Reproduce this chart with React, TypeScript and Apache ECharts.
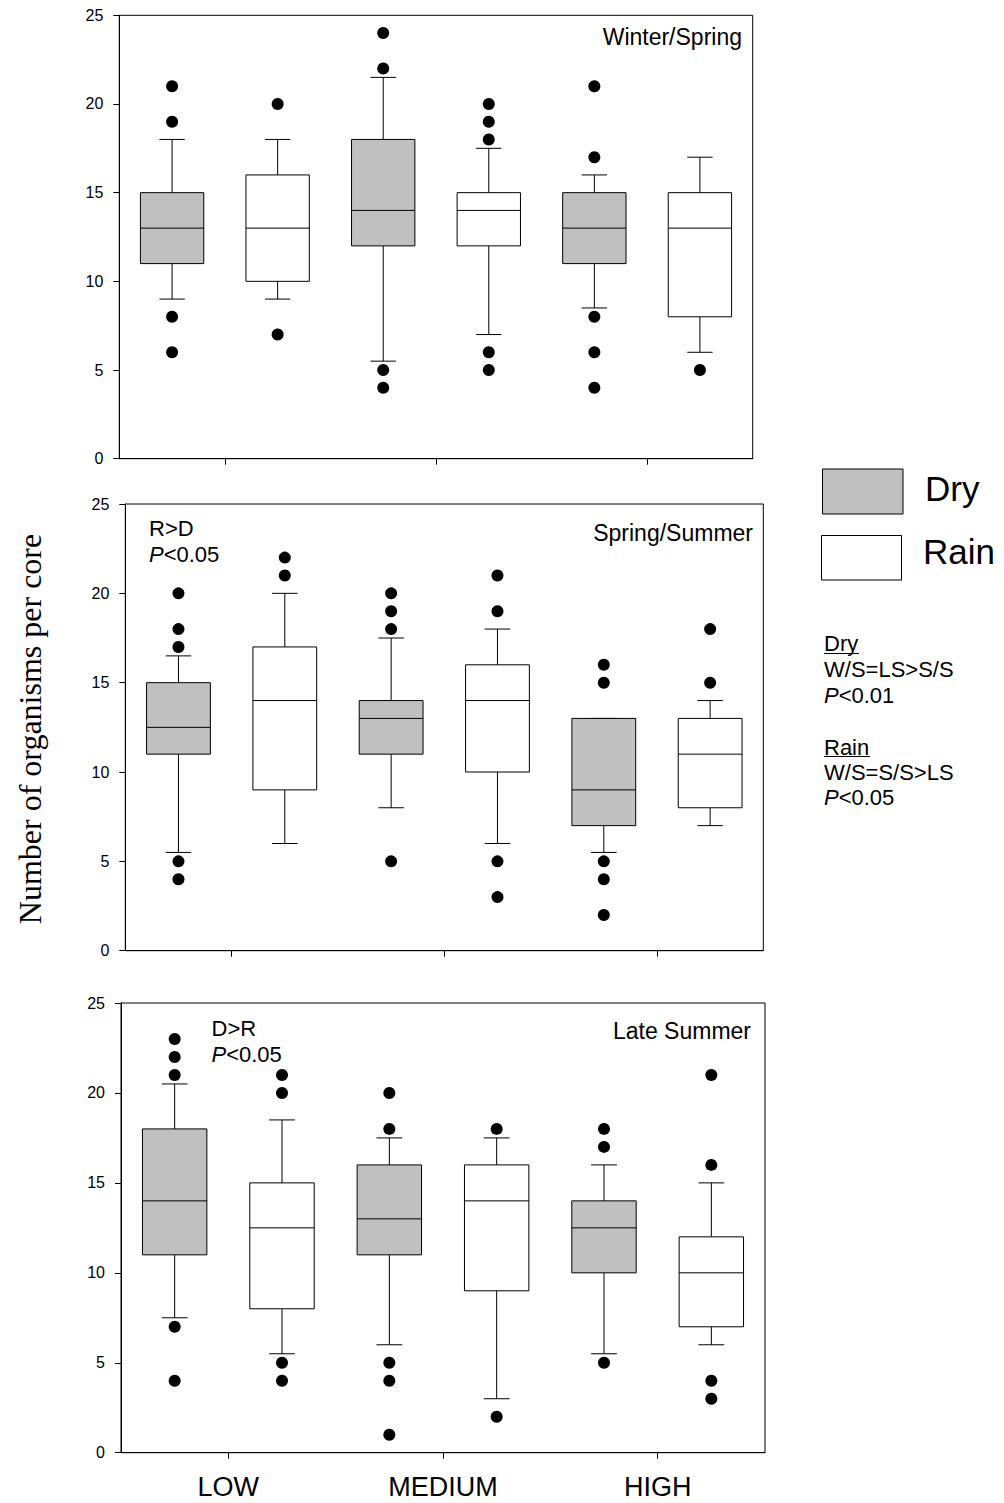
import React, { useEffect, useRef } from "react";
import * as echarts from "echarts";

// ---------- data ----------
const categories = ["LOW", "MEDIUM", "HIGH"];
const seasons = ["Winter/Spring", "Spring/Summer", "Late Summer"];
const yTicks = [0, 5, 10, 15, 20, 25];

// box stats per category: [lower whisker, Q1, median, Q3, upper whisker]
const wsDry = [[9, 11, 13, 15, 18], [5.5, 12, 14, 18, 21.5], [8.5, 11, 13, 15, 16]];
const wsRain = [[9, 10, 13, 16, 18], [7, 12, 14, 15, 17.5], [6, 8, 13, 15, 17]];
const wsDryOut = [[21, 19, 8, 6], [24, 22, 5, 4], [21, 17, 8, 6, 4]];
const wsRainOut = [[20, 7], [20, 19, 18, 6, 5], [5]];

const ssDry = [[5.5, 11, 12.5, 15, 16.5], [8, 11, 13, 14, 17.5], [5.5, 7, 9, 13, 13]];
const ssRain = [[6, 9, 14, 17, 20], [6, 10, 14, 16, 18], [7, 8, 11, 13, 14]];
const ssDryOut = [[20, 18, 17, 5, 4], [20, 19, 18, 5], [16, 15, 5, 4, 2]];
const ssRainOut = [[22, 21], [21, 19, 5, 3], [18, 15]];

const lsDry = [[7.5, 11, 14, 18, 20.5], [6, 11, 13, 16, 17.5], [5.5, 10, 12.5, 14, 16]];
const lsRain = [[5.5, 8, 12.5, 15, 18.5], [3, 9, 14, 16, 17.5], [6, 7, 10, 12, 15]];
const lsDryOut = [[23, 22, 21, 7, 4], [20, 18, 5, 4, 1], [18, 17, 5]];
const lsRainOut = [[21, 20, 5, 4], [18, 2], [21, 16, 4, 3]];

const panelDry = [wsDry, ssDry, lsDry];
const panelRain = [wsRain, ssRain, lsRain];
const panelDryOut = [wsDryOut, ssDryOut, lsDryOut];
const panelRainOut = [wsRainOut, ssRainOut, lsRainOut];

// ---------- styling ----------
const SANS = "'Liberation Sans', Arial, Helvetica, sans-serif";
const SERIF = "'Liberation Serif', 'Times New Roman', serif";
const DRY_FILL = "#c0c0c0";
const RAIN_FILL = "#ffffff";
const INK = "#000000";

const grids = [
  { left: 119.3, top: 15.3, width: 633.4, height: 443.4 },
  { left: 125.3, top: 504, width: 638, height: 446.7 },
  { left: 121, top: 1003, width: 644, height: 449.7 },
];

function makeBoxRender(side: number, fill: string) {
  return (params: any, api: any) => {
    const c = api.value(0);
    const band = api.size([1, 0])[0];
    const x = api.coord([c, 0])[0] + (side * band) / 4;
    const y = (i: number) => api.coord([c, api.value(i)])[1];
    const lo = y(1), q1 = y(2), md = y(3), q3 = y(4), hi = y(5);
    const bw = band * 0.3;
    const cw = band * 0.12;
    const ls = { stroke: INK, lineWidth: 1 };
    return {
      type: "group",
      children: [
        { type: "line", shape: { x1: x, y1: q3, x2: x, y2: hi }, style: ls },
        { type: "line", shape: { x1: x, y1: q1, x2: x, y2: lo }, style: ls },
        { type: "line", shape: { x1: x - cw / 2, y1: hi, x2: x + cw / 2, y2: hi }, style: ls },
        { type: "line", shape: { x1: x - cw / 2, y1: lo, x2: x + cw / 2, y2: lo }, style: ls },
        {
          type: "rect",
          shape: { x: x - bw / 2, y: q3, width: bw, height: q1 - q3 },
          style: { fill, stroke: INK, lineWidth: 1 },
        },
        { type: "line", shape: { x1: x - bw / 2, y1: md, x2: x + bw / 2, y2: md }, style: ls },
      ],
    };
  };
}

function makeOutRender(side: number) {
  return (params: any, api: any) => {
    const c = api.value(0);
    const band = api.size([1, 0])[0];
    const p = api.coord([c, api.value(1)]);
    return {
      type: "circle",
      shape: { cx: p[0] + (side * band) / 4, cy: p[1], r: 6 },
      style: { fill: INK },
    };
  };
}

function text(x: number, y: number, t: string, size: number, align = "left", extra: any = {}) {
  return {
    type: "text",
    x,
    y,
    silent: true,
    ...extra,
    style: {
      text: t,
      fill: INK,
      fontSize: size,
      fontFamily: SANS,
      align,
      verticalAlign: "middle",
      textAlign: align,
      textVerticalAlign: "middle",
      rich: { i: { fontStyle: "italic", fontSize: size, fontFamily: SANS, fill: INK } },
      ...(extra.style || {}),
    },
  };
}

function buildOption() {
  const xAxis: any[] = [];
  const yAxis: any[] = [];
  const series: any[] = [];
  grids.forEach((g, p) => {
    xAxis.push({
      type: "category",
      gridIndex: p,
      data: categories,
      boundaryGap: true,
      axisLine: { show: true, lineStyle: { color: INK, width: 1 } },
      axisTick: { show: true, alignWithLabel: true, inside: false, length: 6, lineStyle: { color: INK } },
      axisLabel: {
        show: p === 2,
        color: INK,
        fontSize: 27,
        fontFamily: SANS,
        margin: 21,
      },
      splitLine: { show: false },
    });
    yAxis.push({
      type: "value",
      gridIndex: p,
      min: yTicks[0],
      max: yTicks[yTicks.length - 1],
      interval: 5,
      axisLine: { show: true, lineStyle: { color: INK, width: 1 } },
      axisTick: { show: true, inside: false, length: 6, lineStyle: { color: INK } },
      axisLabel: { color: INK, fontSize: 16, fontFamily: SANS, margin: 16 },
      splitLine: { show: false },
    });
    const common = { xAxisIndex: p, yAxisIndex: p, clip: false };
    series.push({
      ...common,
      type: "custom",
      name: "Dry",
      renderItem: makeBoxRender(-1, DRY_FILL),
      encode: { x: 0, y: [1, 2, 3, 4, 5] },
      data: panelDry[p].map((d, i) => [i, ...d]),
    });
    series.push({
      ...common,
      type: "custom",
      name: "Rain",
      renderItem: makeBoxRender(1, RAIN_FILL),
      encode: { x: 0, y: [1, 2, 3, 4, 5] },
      data: panelRain[p].map((d, i) => [i, ...d]),
    });
    series.push({
      ...common,
      type: "custom",
      name: "Dry outliers",
      renderItem: makeOutRender(-1),
      encode: { x: 0, y: 1 },
      data: panelDryOut[p].flatMap((vals, i) => vals.map((v) => [i, v])),
    });
    series.push({
      ...common,
      type: "custom",
      name: "Rain outliers",
      renderItem: makeOutRender(1),
      encode: { x: 0, y: 1 },
      data: panelRainOut[p].flatMap((vals, i) => vals.map((v) => [i, v])),
    });
  });

  const graphic: any[] = [
    // season labels
    text(742, 37, seasons[0], 23, "right"),
    text(753, 533, seasons[1], 23, "right"),
    text(751, 1031, seasons[2], 23, "right"),
    // comparisons
    text(149, 528.5, "R>D", 22),
    text(149, 554, "{i|P}<0.05", 22),
    text(211.5, 1028.7, "D>R", 22),
    text(211.5, 1054, "{i|P}<0.05", 22),
    // y axis title
    {
      type: "text",
      x: 30,
      y: 729,
      rotation: Math.PI / 2,
      silent: true,
      style: {
        text: "Number of organisms per core",
        fill: INK,
        fontSize: 32,
        fontFamily: SERIF,
        align: "center",
        verticalAlign: "middle",
        textAlign: "center",
        textVerticalAlign: "middle",
      },
    },
    // legend
    { type: "rect", shape: { x: 822.5, y: 469, width: 80.5, height: 45 }, style: { fill: DRY_FILL, stroke: INK, lineWidth: 1 } },
    { type: "rect", shape: { x: 821.5, y: 535.5, width: 80, height: 44.5 }, style: { fill: RAIN_FILL, stroke: INK, lineWidth: 1 } },
    text(925, 488, "Dry", 35),
    text(923, 551, "Rain", 35),
    // stats
    text(824, 643.7, "Dry", 22),
    { type: "line", shape: { x1: 824, y1: 653.5, x2: 859, y2: 653.5 }, style: { stroke: INK, lineWidth: 1.2 } },
    text(824, 669.7, "W/S=LS>S/S", 22),
    text(824, 695, "{i|P}<0.01", 22),
    text(824, 747.3, "Rain", 22),
    { type: "line", shape: { x1: 824, y1: 756.5, x2: 870, y2: 756.5 }, style: { stroke: INK, lineWidth: 1.2 } },
    text(824, 772.3, "W/S=S/S>LS", 22),
    text(824, 797.5, "{i|P}<0.05", 22),
  ];

  return {
    animation: false,
    backgroundColor: "#ffffff",
    grid: grids.map((g) => ({ ...g, show: true, borderColor: INK, borderWidth: 1, backgroundColor: "transparent" })),
    xAxis,
    yAxis,
    series,
    graphic,
  };
}

export default function App() {
  const ref = useRef<HTMLDivElement>(null);
  useEffect(() => {
    if (!ref.current) return;
    const chart = echarts.init(ref.current, null, { renderer: "svg" });
    chart.setOption(buildOption() as any);
    return () => chart.dispose();
  }, []);
  return (
    <div
      ref={ref}
      style={{ position: "absolute", left: 0, top: 0, width: 1004, height: 1503, background: "#fff" }}
    />
  );
}
